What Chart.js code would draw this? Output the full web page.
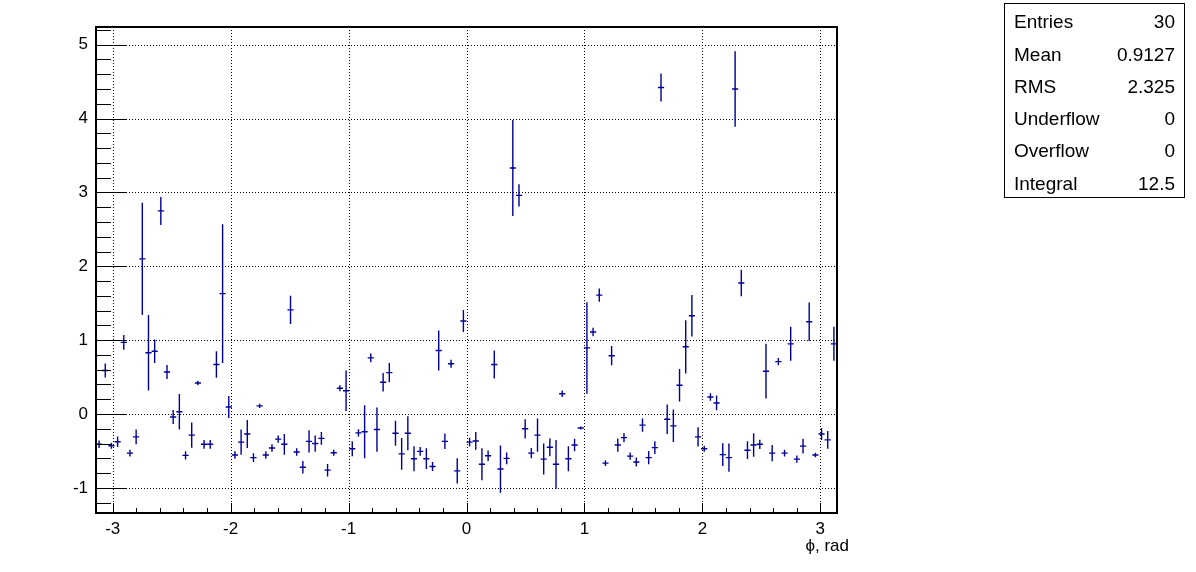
<!DOCTYPE html>
<html>
<head>
<meta charset="utf-8">
<script src="https://cdn.jsdelivr.net/npm/chart.js@4.4.1/dist/chart.umd.min.js"></script>
<style>
  html, body { margin: 0; padding: 0; background: #fff; }
  #wrap { width: 1196px; height: 572px; }
</style>
</head>
<body>
<div id="wrap"><canvas id="myChart" width="1196" height="572"></canvas></div>
<script>
'use strict'

/* global Chart */

// histogram: 120 bins over [-pi, pi]
const nBins = 120
const xMin = -Math.PI
const xMax = Math.PI
const yMin = -1.34
const yMax = 5.24
const xTicks = [-3, -2, -1, 0, 1, 2, 3]
const yTicks = [-1, 0, 1, 2, 3, 4, 5]

const binValues = [
  -0.41, 0.59, -0.43, -0.375, 0.97, -0.53, -0.31, 2.10, 0.83, 0.85,
  2.75, 0.57, -0.04, 0.03, -0.56, -0.285, 0.42, -0.41, -0.41, 0.67,
  1.63, 0.095, -0.555, -0.38, -0.27, -0.59, 0.11, -0.555, -0.46, -0.34,
  -0.41, 1.41, -0.515, -0.72, -0.37, -0.40, -0.33, -0.76, -0.525, 0.35,
  0.315, -0.47, -0.255, -0.24, 0.76, -0.21, 0.43, 0.56, -0.26, -0.54,
  -0.26, -0.605, -0.505, -0.605, -0.71, 0.86, -0.37, 0.68, -0.77, 1.26,
  -0.38, -0.365, -0.68, -0.565, 0.67, -0.745, -0.6, 3.33, 2.96, -0.2,
  -0.53, -0.285, -0.61, -0.45, -0.68, 0.275, -0.605, -0.42, -0.19, 0.895,
  1.11, 1.61, -0.665, 0.79, -0.42, -0.32, -0.57, -0.65, -0.15, -0.59,
  -0.455, 4.42, -0.07, -0.16, 0.39, 0.91, 1.33, -0.31, -0.47, 0.23,
  0.15, -0.55, -0.59, 4.40, 1.775, -0.49, -0.42, -0.41, 0.58, -0.53,
  0.71, -0.53, 0.95, -0.61, -0.435, 1.25, -0.555, -0.27, -0.35, 0.95
]

const binErrors = [
  0.05, 0.095, 0.04, 0.07, 0.1, 0.045, 0.1, 0.76, 0.51, 0.16,
  0.19, 0.095, 0.095, 0.24, 0.055, 0.17, 0.03, 0.06, 0.06, 0.18,
  0.94, 0.15, 0.05, 0.17, 0.19, 0.06, 0.03, 0.05, 0.05, 0.05,
  0.14, 0.19, 0.05, 0.085, 0.15, 0.11, 0.085, 0.085, 0.04, 0.04,
  0.275, 0.1, 0.05, 0.36, 0.06, 0.30, 0.125, 0.13, 0.17, 0.215,
  0.23, 0.17, 0.06, 0.14, 0.06, 0.27, 0.105, 0.055, 0.17, 0.15,
  0.06, 0.12, 0.215, 0.07, 0.19, 0.32, 0.08, 0.65, 0.15, 0.13,
  0.07, 0.225, 0.21, 0.12, 0.33, 0.045, 0.17, 0.085, 0.02, 0.62,
  0.057, 0.09, 0.04, 0.13, 0.09, 0.063, 0.05, 0.06, 0.09, 0.09,
  0.085, 0.19, 0.2, 0.22, 0.22, 0.36, 0.28, 0.13, 0.04, 0.05,
  0.1, 0.155, 0.19, 0.51, 0.18, 0.12, 0.16, 0.063, 0.37, 0.11,
  0.05, 0.045, 0.23, 0.05, 0.1, 0.26, 0.03, 0.08, 0.12, 0.23
]

const statLabels = ['Entries', 'Mean', 'RMS', 'Underflow', 'Overflow', 'Integral']
const statValues = ['30', '0.9127', '2.325', '0', '0', '12.5']
const axisTitle = 'ϕ, rad'

const markColor = '#000099'
const fontFamily = '"Liberation Sans", Arial, sans-serif'
const binWidth = (xMax - xMin) / nBins

function makePoints () {
  const pts = []
  for (let i = 0; i < nBins; i++) {
    pts.push({ x: xMin + (i + 0.5) * binWidth, y: binValues[i], err: binErrors[i] })
  }
  return pts
}

function dotted (ctx, x1, y1, x2, y2) {
  ctx.beginPath()
  ctx.moveTo(x1, y1)
  ctx.lineTo(x2, y2)
  ctx.stroke()
}

const rootStyle = {
  id: 'rootStyle',
  beforeDatasetsDraw (chart) {
    const { ctx, chartArea: a, scales } = chart
    ctx.save()
    ctx.strokeStyle = '#000'
    ctx.lineWidth = 1
    ctx.setLineDash([1, 2])
    for (const v of xTicks) {
      const px = Math.round(scales.x.getPixelForValue(v)) + 0.5
      dotted(ctx, px, a.top, px, a.bottom)
    }
    for (const v of yTicks) {
      const py = Math.round(scales.y.getPixelForValue(v)) + 0.5
      dotted(ctx, a.left, py, a.right, py)
    }
    ctx.restore()
  },
  afterDatasetsDraw (chart) {
    const { ctx, chartArea: a, scales } = chart
    const xs = scales.x
    const ys = scales.y
    const pts = chart.data.datasets[0].data

    // error bars
    ctx.save()
    ctx.beginPath()
    ctx.rect(a.left, a.top, a.right - a.left, a.bottom - a.top)
    ctx.clip()
    ctx.strokeStyle = markColor
    ctx.lineWidth = 1.4
    for (const p of pts) {
      const px = xs.getPixelForValue(p.x)
      const py = ys.getPixelForValue(p.y)
      ctx.beginPath()
      ctx.moveTo(px, ys.getPixelForValue(p.y + p.err))
      ctx.lineTo(px, ys.getPixelForValue(p.y - p.err))
      ctx.moveTo(xs.getPixelForValue(p.x - binWidth / 2), py)
      ctx.lineTo(xs.getPixelForValue(p.x + binWidth / 2), py)
      ctx.stroke()
    }
    ctx.restore()

    // tick marks
    ctx.save()
    ctx.strokeStyle = '#000'
    ctx.lineWidth = 1
    ctx.beginPath()
    for (let k = Math.ceil(yMin * 5); k <= Math.floor(yMax * 5); k++) {
      const py = Math.round(ys.getPixelForValue(k / 5)) + 0.5
      const len = (k % 5 === 0) ? 30 : 15
      ctx.moveTo(a.left, py)
      ctx.lineTo(a.left + len, py)
    }
    for (let k = Math.ceil(xMin * 10); k <= Math.floor(xMax * 10); k++) {
      if (k % 2 !== 0) continue
      const px = Math.round(xs.getPixelForValue(k / 10)) + 0.5
      const len = (k % 10 === 0) ? 10 : 5
      ctx.moveTo(px, a.bottom)
      ctx.lineTo(px, a.bottom - len)
    }
    ctx.stroke()

    // frame
    ctx.lineWidth = 2
    ctx.strokeRect(Math.round(a.left), Math.round(a.top), Math.round(a.right - a.left), Math.round(a.bottom - a.top))

    // axis title
    ctx.fillStyle = '#000'
    ctx.font = '17px ' + fontFamily
    ctx.textAlign = 'right'
    ctx.textBaseline = 'middle'
    ctx.fillText(axisTitle, 849, 546)

    // stats box
    ctx.lineWidth = 1
    ctx.strokeRect(1004.5, 3.5, 180, 194)
    ctx.font = '19px ' + fontFamily
    for (let i = 0; i < statLabels.length; i++) {
      const ty = 23 + i * 32.3
      ctx.textAlign = 'left'
      ctx.fillText(statLabels[i], 1014, ty)
      ctx.textAlign = 'right'
      ctx.fillText(statValues[i], 1175, ty)
    }
    ctx.restore()
  }
}

const tickFont = { family: fontFamily, size: 17 }

const myChart = new Chart(document.querySelector('#myChart'), {
  type: 'scatter',
  data: {
    datasets: [{
      data: makePoints(),
      pointRadius: 0,
      showLine: false
    }]
  },
  options: {
    responsive: false,
    animation: false,
    layout: { padding: { left: 0, right: 359, top: 27, bottom: 0 } },
    plugins: {
      legend: { display: false },
      tooltip: { enabled: false }
    },
    scales: {
      x: {
        type: 'linear',
        min: xMin,
        max: xMax,
        grid: { display: false, drawTicks: false },
        border: { display: false },
        ticks: { font: tickFont, color: '#000', padding: 6, autoSkip: false, maxRotation: 0 },
        afterBuildTicks: (s) => { s.ticks = xTicks.map(v => ({ value: v })) },
        afterFit: (s) => { s.height = 59 }
      },
      y: {
        type: 'linear',
        min: yMin,
        max: yMax,
        grid: { display: false, drawTicks: false },
        border: { display: false },
        ticks: { font: tickFont, color: '#000', padding: 8, autoSkip: false },
        afterBuildTicks: (s) => { s.ticks = yTicks.map(v => ({ value: v })) },
        afterFit: (s) => { s.width = 96 }
      }
    }
  },
  plugins: [rootStyle]
})
</script>
</body>
</html>
